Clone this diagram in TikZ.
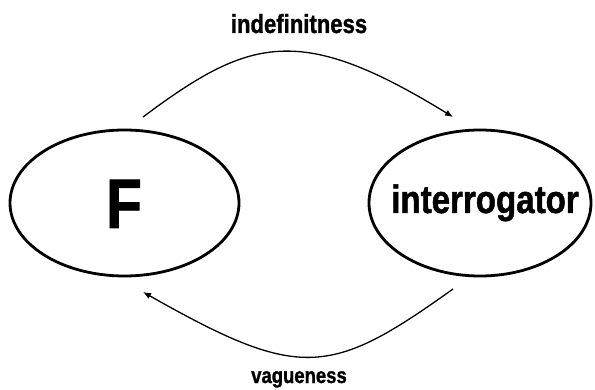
\documentclass[tikz,border=0pt]{standalone}
\usepackage{fontspec}
\usetikzlibrary{shapes.geometric,arrows.meta}
\newfontfamily\labfont[FakeStretch=0.84,FakeBold=1.2]{Liberation Sans}
\begin{document}
\begin{tikzpicture}[x=1pt,y=1pt,
  blob/.style={draw,ellipse,line width=2.8pt,inner sep=0pt},
  arc/.style={line width=1.3pt,-{Latex[length=8pt,width=6.5pt]}},
  lab/.style={font=\labfont\bfseries,inner sep=0pt,anchor=base}]
\useasboundingbox (0,0) rectangle (595,389);
\node[blob,minimum width=229pt,minimum height=146pt] (L) at (124.5,186) {};
\node[blob,minimum width=222pt,minimum height=146pt] (R) at (480,186) {};
\node[lab,font=\labfont\bfseries\fontsize{70}{70}\selectfont] (Ft) at (124,161) {F};
\node[lab,font=\labfont\bfseries\fontsize{39.4}{40}\selectfont] (It) at (485,176) {interrogator};
\node[lab,font=\labfont\bfseries\fontsize{26.3}{27}\selectfont] (top) at (299,356) {indefinitness};
\node[lab,font=\labfont\bfseries\fontsize{22}{22}\selectfont] (bot) at (299,6) {vagueness};
\coordinate (a1) at (143,272);
\coordinate (a2) at (453,272);
\coordinate (b1) at (453,100);
\coordinate (b2) at (143,97);
\draw[arc] (a1) .. controls (250,352) and (300,366) .. (a2);
\draw[arc] (b1) .. controls (330,12) and (300,8) .. (b2);
\end{tikzpicture}
\end{document}
